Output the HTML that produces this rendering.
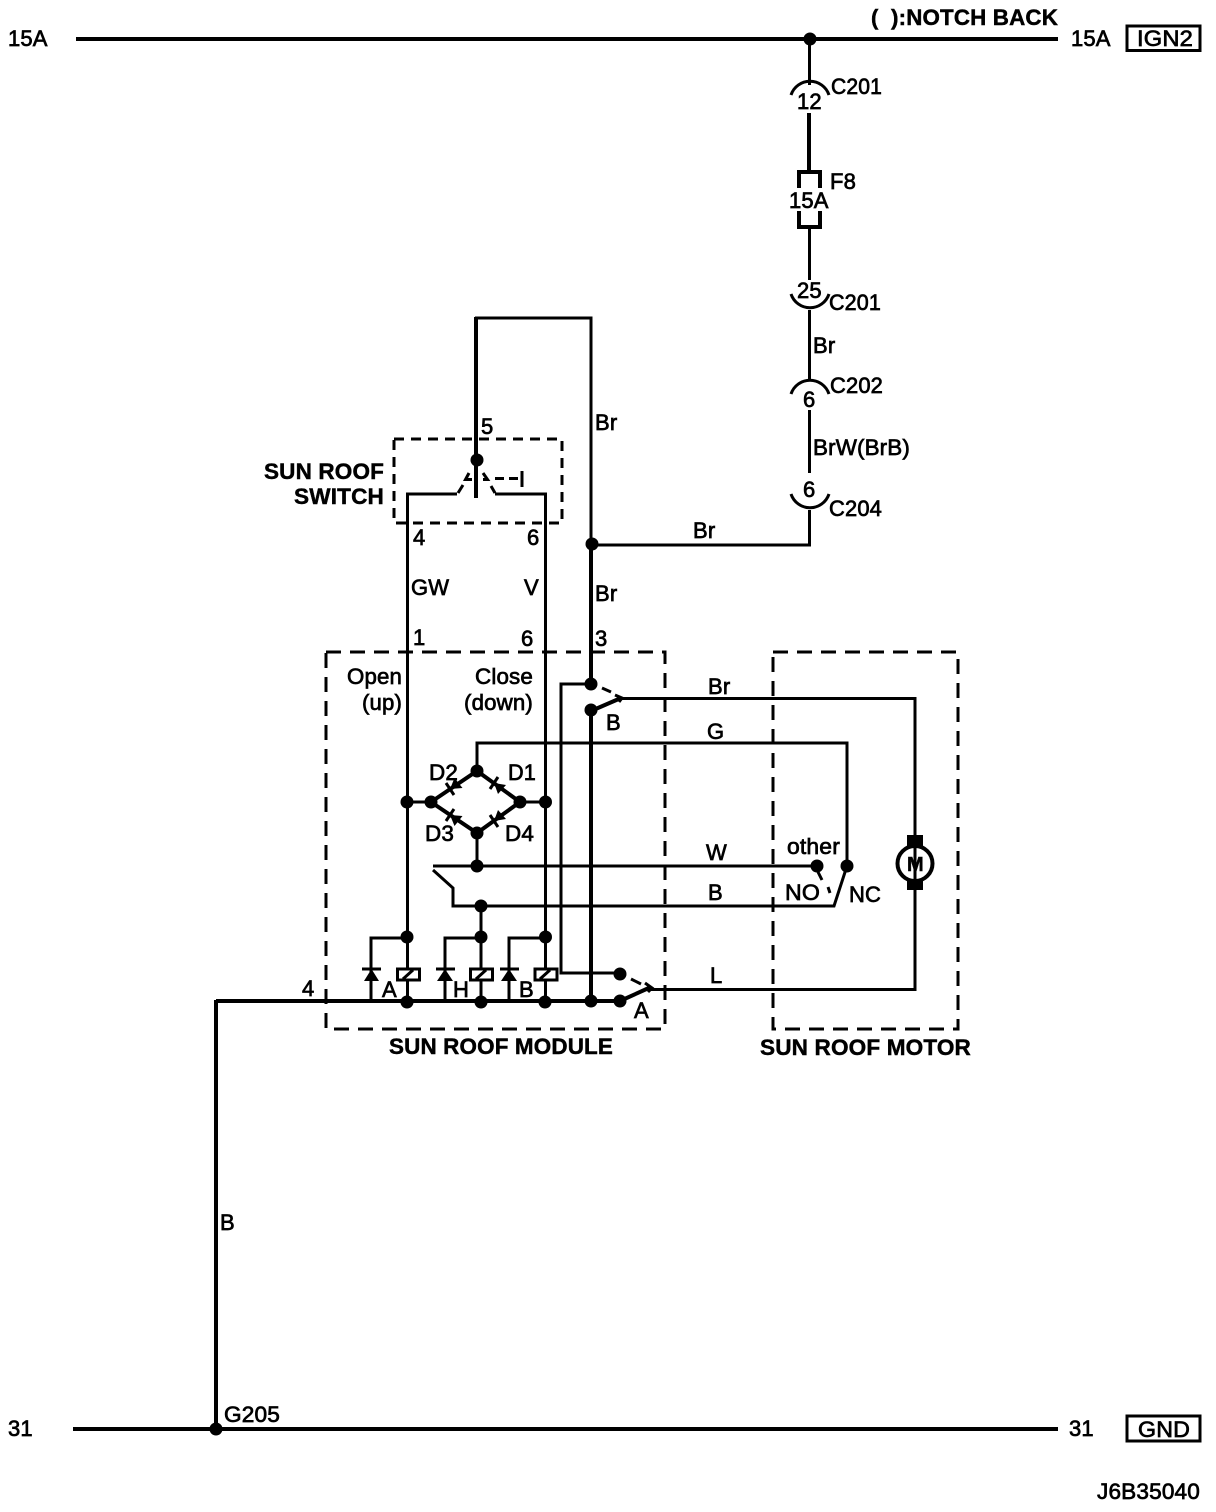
<!DOCTYPE html>
<html><head><meta charset="utf-8"><style>
html,body{margin:0;padding:0;background:#fff}
svg{display:block}
text{font-family:"Liberation Sans",sans-serif;font-size:22px;letter-spacing:.15px;fill:#000;stroke:#000;stroke-width:.7}
text.b{font-weight:bold;stroke-width:.45}
.t4{stroke-width:4}.t3{stroke-width:3}
</style></head><body>
<svg width="1216" height="1512" viewBox="0 0 1216 1512" xmlns="http://www.w3.org/2000/svg">
<g fill="none" stroke="#000" stroke-width="3" stroke-linejoin="miter">
<!-- rails -->
<path class="t4" d="M76 39H1058M73 1429H1058"/>
<rect x="1127" y="26" width="73" height="24.500"/>
<rect x="1127" y="1416" width="73" height="25"/>
<!-- right feed -->
<path d="M809.500 39V85"/>
<path class="t4" d="M809 113V172"/>
<path class="t4" d="M799 188V172H820V188M799 211V227H820V211"/>
<path d="M809.500 227V280M809.500 310V380M809.500 410V473M809.500 510V545H592"/>
<path d="M791 95A20 20 0 0 1 829 95"/>
<path d="M791 294A20 20 0 0 0 829 294"/>
<path d="M791 394A20 20 0 0 1 829 394"/>
<path d="M791 494A20 20 0 0 0 829 494"/>
<!-- Br loop -->
<path d="M591 545V318H475"/>
<path class="t4" d="M476 317V498"/>
<path class="t4" d="M591 545V684"/>
<!-- switch -->
<path d="M407.500 640V494H457M545.500 640V494H495"/>
<path class="t3" d="M458 493L463 485M491 486L495 493"/>
<path d="M469 473L465.500 479.500H472M483 473L487.500 479.500H483"/>
<path class="t3" d="M495 478.500H519" stroke-dasharray="9 5"/>
<path class="t3" d="M522 471V487"/>
<path stroke-dasharray="10 7" d="M394 439H562V523H394V439"/>
<!-- boxes -->
<path stroke-dasharray="15 9" class="t3" d="M326 652H665V1029H326V652"/>
<path stroke-dasharray="15 9" class="t3" d="M773 652H958V1029H773V652"/>
<!-- vertical GW/V -->
<path d="M407.500 640V968M407.500 980V1000M545.500 640V968M545.500 980V1000"/>
<!-- relay B contacts -->
<path d="M591 684H561V973H620"/>
<path class="t4" d="M591 710V1001"/>
<path class="t4" d="M591 711L621 698"/>
<path class="t3" d="M602 688L611 692"/>
<path d="M615 695L622 698L619 702"/>
<path d="M620 698.500H915V989.500H650"/>
<!-- G -->
<path d="M477 771V743H847V866"/>
<!-- diamond -->
<path class="t4" d="M431 802L477 771L520 802L477 833Z"/>
<path d="M407 802H431M520 802H545"/>
<path d="M446 783L454 795M498 777L490 789M454 809L446 821M490 815L498 827"/>
<path d="M477 833V866"/>
<!-- W -->
<path class="t3" d="M433 866H817"/>
<path d="M433 870L453 888V906H834L847 866"/>
<!-- relay -->
<path d="M481 906V1000M371 1000V938H407M445 1000V938H481M509 1000V938H545"/>
<rect x="397.500" y="969" width="22" height="11" fill="#fff"/>
<rect x="470.500" y="969" width="22" height="11" fill="#fff"/>
<rect x="535" y="969" width="22" height="11" fill="#fff"/>
<path d="M403 979L413 970M476 979L486 970M540 979L550 970"/>
<path d="M362 969H381M436 969H455M500 969H519"/>
<!-- ground line -->
<path class="t4" d="M216 1001H620M216 1000V1429"/>
<path class="t4" d="M620 1001L651 987"/>
<path class="t3" d="M631 979L641 984"/>
<path d="M645 983L652 988L648 992"/>
<!-- NO -->
<path class="t3" d="M818 872L822 880M828 887L830 893"/>
<!-- motor -->
<path d="M915 698V840M915 886V990"/>
<circle cx="915" cy="863.500" r="17.500" class="t4"/>
</g>
<g fill="#000">
<circle cx="810" cy="39" r="6.500"/>
<circle cx="592" cy="544" r="6.500"/><circle cx="477" cy="460" r="6.500"/>
<circle cx="591" cy="684" r="6.500"/><circle cx="591" cy="710" r="6.500"/>
<circle cx="407" cy="802" r="6.500"/><circle cx="431" cy="802" r="6.500"/><circle cx="477" cy="771" r="6.500"/><circle cx="520" cy="802" r="6.500"/><circle cx="545.500" cy="802" r="6.500"/><circle cx="477" cy="833" r="6.500"/><circle cx="477" cy="866" r="6.500"/><circle cx="481" cy="906" r="6.500"/><circle cx="481" cy="937" r="6.500"/><circle cx="407" cy="937" r="6.500"/><circle cx="545.500" cy="937" r="6.500"/>
<circle cx="407" cy="1002" r="6.500"/><circle cx="481" cy="1002" r="6.500"/><circle cx="545" cy="1002" r="6.500"/><circle cx="591" cy="1001" r="6.500"/><circle cx="620" cy="1001" r="6.500"/><circle cx="620" cy="974" r="6.500"/>
<circle cx="817" cy="866" r="6.500"/><circle cx="847" cy="866" r="6.500"/><circle cx="216" cy="1429" r="6.500"/>
<path d="M364 981h15l-7.500-12zM437 981h16l-8-12zM501 981h16l-8-12z"/>
<rect x="907" y="835" width="16" height="11"/><rect x="907" y="880" width="16" height="10"/>
<path d="M450 789L454.500 778L462.500 788zM494 783L498 794L506 785zM450 815L454.500 826L462.500 816zM494 821L506 819L498 810z"/>
</g>
<text x="8" y="46">15A</text><text x="1071" y="46">15A</text>
<text x="1137" y="46" textLength="56" lengthAdjust="spacingAndGlyphs">IGN2</text>
<text x="1138" y="1437" textLength="52" lengthAdjust="spacingAndGlyphs">GND</text>
<text class="b" x="871" y="25">(</text>
<text class="b" x="891" y="25" textLength="167" lengthAdjust="spacingAndGlyphs">):NOTCH BACK</text>
<text x="831" y="94" textLength="51" lengthAdjust="spacingAndGlyphs">C201</text><text x="797" y="109">12</text><text x="830" y="189">F8</text><text x="789" y="208">15A</text>
<text x="797" y="298">25</text><text x="829" y="310" textLength="52" lengthAdjust="spacingAndGlyphs">C201</text><text x="813" y="353">Br</text><text x="830" y="393" textLength="53" lengthAdjust="spacingAndGlyphs">C202</text><text x="803" y="407">6</text>
<text x="813" y="455" textLength="97" lengthAdjust="spacingAndGlyphs">BrW(BrB)</text><text x="803" y="497">6</text><text x="829" y="516" textLength="53" lengthAdjust="spacingAndGlyphs">C204</text>
<text x="595" y="430">Br</text><text x="693" y="538">Br</text><text x="595" y="601">Br</text><text x="481" y="434">5</text>
<text class="b" x="264" y="479" textLength="120" lengthAdjust="spacingAndGlyphs">SUN ROOF</text><text class="b" x="294" y="504" textLength="90" lengthAdjust="spacingAndGlyphs">SWITCH</text>
<text x="413" y="545">4</text><text x="527" y="545">6</text><text x="411" y="595">GW</text><text x="524" y="595">V</text>
<text x="413" y="645">1</text><text x="521" y="646">6</text><text x="595" y="646">3</text>
<text x="347" y="684" textLength="55" lengthAdjust="spacingAndGlyphs">Open</text><text x="362" y="710" textLength="40" lengthAdjust="spacingAndGlyphs">(up)</text><text x="475" y="684" textLength="58" lengthAdjust="spacingAndGlyphs">Close</text><text x="464" y="710" textLength="69" lengthAdjust="spacingAndGlyphs">(down)</text>
<text x="708" y="694">Br</text><text x="606" y="730">B</text><text x="707" y="739">G</text>
<text x="429" y="780" textLength="29" lengthAdjust="spacingAndGlyphs">D2</text><text x="508" y="780" textLength="28" lengthAdjust="spacingAndGlyphs">D1</text><text x="425" y="841" textLength="29" lengthAdjust="spacingAndGlyphs">D3</text><text x="505" y="841" textLength="29" lengthAdjust="spacingAndGlyphs">D4</text>
<text x="706" y="860">W</text><text x="787" y="854" textLength="53" lengthAdjust="spacingAndGlyphs">other</text><text x="708" y="900">B</text><text x="785" y="900" textLength="35" lengthAdjust="spacingAndGlyphs">NO</text><text x="849" y="902">NC</text>
<text class="b" x="907" y="871" style="font-size:20px;letter-spacing:0">M</text>
<text x="382" y="997">A</text><text x="453" y="997">H</text><text x="519" y="997">B</text><text x="302" y="996">4</text><text x="710" y="983">L</text><text x="634" y="1018">A</text>
<text class="b" x="389" y="1054" textLength="224" lengthAdjust="spacingAndGlyphs">SUN ROOF MODULE</text>
<text class="b" x="760" y="1055" textLength="211" lengthAdjust="spacingAndGlyphs">SUN ROOF MOTOR</text>
<text x="220" y="1230">B</text><text x="224" y="1422" textLength="56" lengthAdjust="spacingAndGlyphs">G205</text><text x="8" y="1436">31</text><text x="1069" y="1436">31</text>
<text x="1097" y="1499" textLength="103" lengthAdjust="spacingAndGlyphs">J6B35040</text>
</svg>
</body></html>
